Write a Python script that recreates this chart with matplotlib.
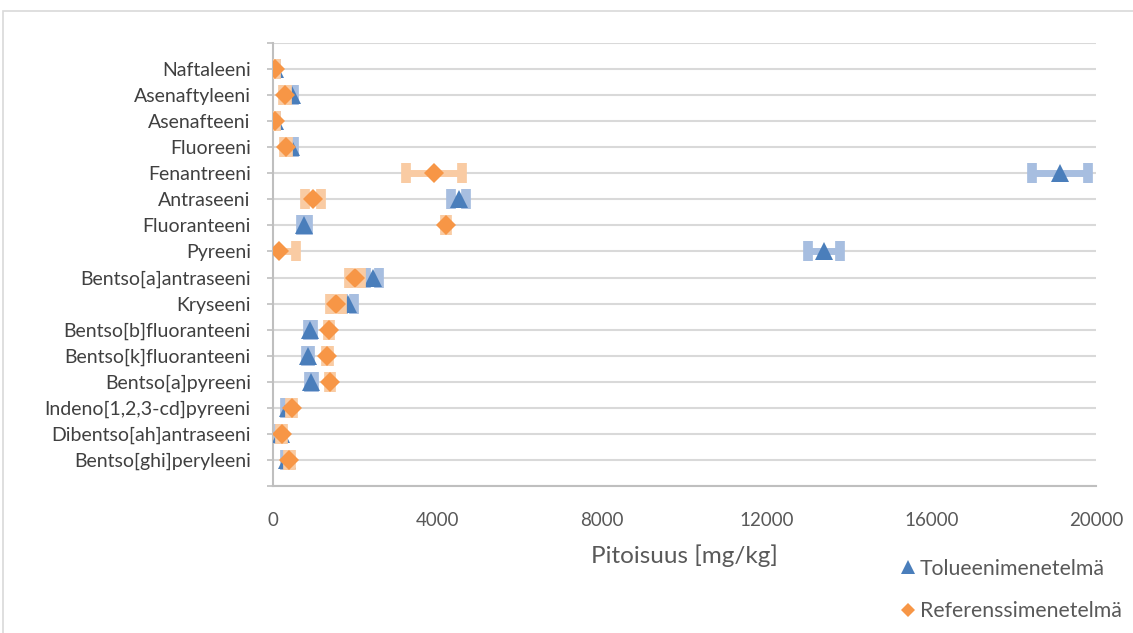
import matplotlib
matplotlib.use("Agg")
import matplotlib.pyplot as plt
from matplotlib.lines import Line2D
from matplotlib.patches import Rectangle
import numpy as np

plt.rcParams['font.family'] = ['Lato', 'DejaVu Sans']

categories = ["Naftaleeni", "Asenaftyleeni", "Asenafteeni", "Fluoreeni", "Fenantreeni",
              "Antraseeni", "Fluoranteeni", "Pyreeni", "Bentso[a]antraseeni", "Kryseeni",
              "Bentso[b]fluoranteeni", "Bentso[k]fluoranteeni", "Bentso[a]pyreeni",
              "Indeno[1,2,3-cd]pyreeni", "Dibentso[ah]antraseeni", "Bentso[ghi]peryleeni"]

toluene = [50, 455, 50, 430, 19120, 4510, 760, 13380, 2420, 1830, 900, 845, 925, 360, 190, 335]
toluene_err = [30, 60, 30, 70, 680, 190, 90, 390, 150, 140, 60, 50, 60, 60, 40, 50]
reference = [50, 290, 50, 315, 3920, 970, 4210, 155, 1995, 1535, 1360, 1320, 1385, 455, 210, 400]
reference_err = [30, 40, 30, 40, 680, 200, 30, 400, 150, 150, 30, 30, 30, 30, 30, 30]

xticks = [0, 4000, 8000, 12000, 16000, 20000]
series_names = ["Tolueenimenetelmä", "Referenssimenetelmä"]
xlabel = "Pitoisuus [mg/kg]"

blue = '#4A7EBB'
orange = '#F79646'
blue_err = '#A7BEE0'
orange_err = '#F9CBA3'

fig = plt.figure(figsize=(11.33, 6.33), dpi=100)
ax = fig.add_axes([273/1133, 1-486/633, (1096-273)/1133, (486-43)/633])

n = len(categories)
ypos = np.arange(n, 0, -1)

ax.errorbar(toluene, ypos, xerr=toluene_err, fmt='none', ecolor=blue_err,
            elinewidth=5, capsize=7, capthick=7, zorder=2)
ax.plot(toluene, ypos, linestyle='none', marker='^', markersize=13, color=blue,
        markeredgewidth=0, zorder=3)
ax.errorbar(reference, ypos, xerr=reference_err, fmt='none', ecolor=orange_err,
            elinewidth=5, capsize=7, capthick=7, zorder=4)
ax.plot(reference, ypos, linestyle='none', marker='D', markersize=10, color=orange,
        markeredgewidth=0, zorder=5)

ax.set_xlim(0, 20000)
ax.set_ylim(0, n + 1)
ax.set_xticks(xticks)
ax.set_xticklabels([str(t) for t in xticks], fontsize=13.5, color='#595959')
ax.set_yticks(np.arange(0, n + 2))
ax.set_yticklabels([""] + categories[::-1] + [""], fontsize=14, color='#404040')
ax.tick_params(axis='x', length=0, pad=19)
ax.tick_params(axis='y', length=4, width=1.2, color='#BFBFBF', pad=12)
ax.grid(axis='y', color='#D9D9D9', linewidth=1.5, zorder=0)
ax.set_axisbelow(True)
for s in ['top', 'right']:
    ax.spines[s].set_visible(False)
ax.spines['left'].set_color('#BFBFBF')
ax.spines['left'].set_linewidth(1.5)
ax.spines['bottom'].set_color('#BFBFBF')
ax.spines['bottom'].set_linewidth(1.5)

ax.set_xlabel(xlabel, fontsize=17.5, color='#595959', labelpad=11)

handles = [Line2D([], [], linestyle='none', marker='^', markersize=10, color=blue, markeredgewidth=0),
           Line2D([], [], linestyle='none', marker='D', markersize=7.5, color=orange, markeredgewidth=0)]
fig.legend(handles, series_names, loc='upper left', bbox_to_anchor=(888/1133, 1-548/633),
           frameon=False, fontsize=15.3, labelcolor='#595959', handletextpad=0.1,
           labelspacing=1.05, handlelength=0.9, borderpad=0)

fig.patches.append(Rectangle((3/1133, -0.1), 1.2, 1-11/633+0.1, transform=fig.transFigure,
                             fill=False, edgecolor='#D9D9D9', linewidth=1.2))

fig.savefig("out.png", dpi=100)
